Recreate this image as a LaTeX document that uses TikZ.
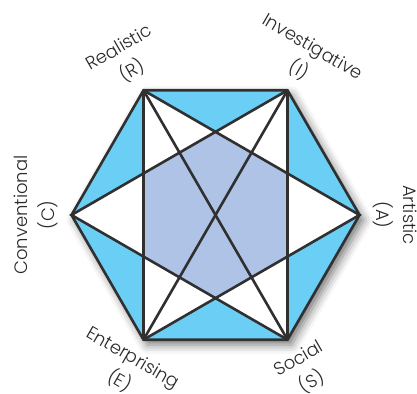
\documentclass[tikz,border=0pt]{standalone}
\usepackage{fontspec}
\setmainfont{Poppins Light}
\usetikzlibrary{shadows.blur}
\definecolor{skyb}{HTML}{6ACEF5}
\definecolor{lav}{HTML}{AEC3E6}
\definecolor{ink}{HTML}{303030}
\definecolor{txt}{HTML}{2A2A2A}
\tikzset{
  edge/.style={draw=ink, line width=2.6pt},
  lbl/.style={align=center, inner sep=0pt, text=txt, font=\fontsize{18}{27}\selectfont},
}
\begin{document}
\begin{tikzpicture}
\useasboundingbox (0,0) rectangle (417pt,-393pt);
\begin{scope}[shift={(215.5pt,-215pt)}]
  \coordinate (R) at (120:144pt);
  \coordinate (I) at (60:144pt);
  \coordinate (A) at (0:144pt);
  \coordinate (S) at (-60:144pt);
  \coordinate (E) at (-120:144pt);
  \coordinate (C) at (180:144pt);
  \coordinate (T) at (90:83.14pt);
  \coordinate (Pr) at (30:83.14pt);
  \coordinate (Pl) at (150:83.14pt);
  \coordinate (Ql) at (210:83.14pt);
  \coordinate (B) at (270:83.14pt);
  \coordinate (Qr) at (330:83.14pt);
  % base hexagon with shadow
  \fill[white, blur shadow={shadow xshift=4pt, shadow yshift=-5pt, shadow blur radius=9pt, shadow opacity=55}]
    (R) -- (I) -- (A) -- (S) -- (E) -- (C) -- cycle;
  % blue regions
  \fill[skyb] (R) -- (I) -- (T) -- cycle;
  \fill[skyb] (E) -- (S) -- (B) -- cycle;
  \fill[skyb] (R) -- (C) -- (Pl) -- cycle;
  \fill[skyb] (C) -- (E) -- (Ql) -- cycle;
  \fill[skyb] (I) -- (A) -- (Pr) -- cycle;
  \fill[skyb] (A) -- (S) -- (Qr) -- cycle;
  % lavender centre
  \fill[lav] (T) -- (Pr) -- (Qr) -- (B) -- (Ql) -- (Pl) -- cycle;
  % lines
  \draw[edge] (R) -- (I) -- (A) -- (S) -- (E) -- (C) -- cycle;
  \draw[edge] (R) -- (E);
  \draw[edge] (I) -- (S);
  \draw[edge] (R) -- (S);
  \draw[edge] (I) -- (E);
  \draw[edge] (R) -- (A) -- (E);
  \draw[edge] (I) -- (C) -- (S);
  % labels
  \node[lbl, rotate=30] (lR) at (120:179pt) {Realistic\\(R)};
  \node[lbl, rotate=-30] (lI) at (60:180pt) {Investigative\\(I)};
  \node[lbl, rotate=-90] (lA) at (0:180pt) {Artistic\\(A)};
  \node[lbl, rotate=30] (lS) at (-60:180pt) {Social\\(S)};
  \node[lbl, rotate=-30] (lE) at (-120:179pt) {Enterprising\\(E)};
  \node[lbl, rotate=90] (lC) at (180:180pt) {Conventional\\(C)};
\end{scope}
\end{tikzpicture}
\end{document}
